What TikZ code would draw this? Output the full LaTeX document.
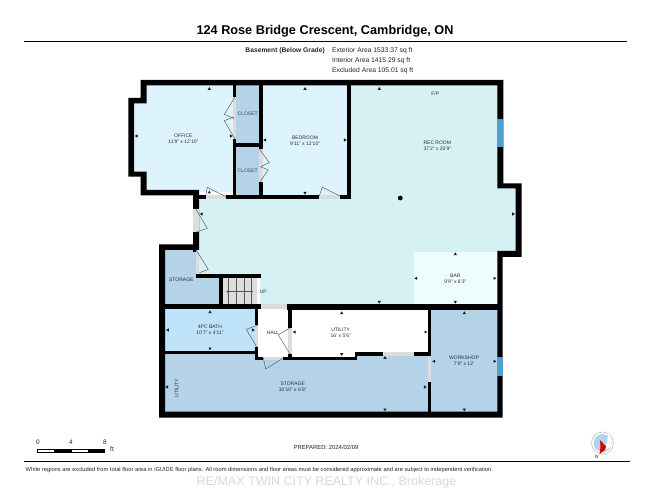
\documentclass[tikz,border=0pt]{standalone}
\usepackage{fontspec}
\usetikzlibrary{arrows.meta}
\setmainfont{Liberation Sans}
\definecolor{lightroom}{HTML}{DDF3FD}
\definecolor{closetc}{HTML}{B4D2E8}
\definecolor{recc}{HTML}{D6F1F3}
\definecolor{barc}{HTML}{EEFCFC}
\definecolor{bathc}{HTML}{BFE3FB}
\definecolor{winc}{HTML}{4F9FD0}
\definecolor{thc}{HTML}{DCDCDC}
\definecolor{leafc}{HTML}{555555}
\definecolor{labc}{HTML}{2E2E2E}
\definecolor{clabc}{HTML}{2F4563}
\tikzset{
  x=1pt,y=-1pt,
  wall/.style={fill=black},
  thresh/.style={fill=thc},
  leaf/.style={draw=leafc,line width=.45pt,line join=miter},
  lab/.style={font=\fontsize{5}{6}\selectfont,text=labc,align=center,inner sep=0pt},
  clab/.style={font=\fontsize{5}{6}\selectfont,text=clabc,align=center,inner sep=0pt},
  txt/.style={inner sep=0pt,text=black!85},
  rule/.style={draw=black,line width=.9pt},
}
\newcommand{\wl}[4]{\fill[wall] (#1,#2) rectangle (#3,#4);}
\newcommand{\thr}[4]{\fill[thresh] (#1,#2) rectangle (#3,#4);}
\newcommand{\tU}[2]{\fill[black!90] (#1,#2) ++(0,-2) -- ++(1.6,2.8) -- ++(-3.2,0) -- cycle;}
\newcommand{\tD}[2]{\fill[black!90] (#1,#2) ++(0,2) -- ++(1.6,-2.8) -- ++(-3.2,0) -- cycle;}
\newcommand{\tL}[2]{\fill[black!90] (#1,#2) ++(-2,0) -- ++(2.8,1.6) -- ++(0,-3.2) -- cycle;}
\newcommand{\tR}[2]{\fill[black!90] (#1,#2) ++(2,0) -- ++(-2.8,1.6) -- ++(0,-3.2) -- cycle;}
\begin{document}
\begin{tikzpicture}
\useasboundingbox (0,0) rectangle (650,502);
\fill[white] (0,0) rectangle (650,502);
% header
\node[txt,font=\bfseries\fontsize{12.7}{15}\selectfont,text=black] (title) at (325,31.5) {124 Rose Bridge Crescent, Cambridge, ON};
\coordinate (hl) at (24,41.5); \coordinate (hr) at (627,41.5);
\draw[rule] (hl) -- (hr);
\node[txt,anchor=east,font=\bfseries\fontsize{6.7}{8}\selectfont] (lvl) at (325,50.5) {Basement (Below Grade)};
\node[txt,anchor=west,font=\fontsize{6.75}{8}\selectfont] (a1) at (332,50.5) {Exterior Area 1533.37 sq ft};
\node[txt,anchor=west,font=\fontsize{6.75}{8}\selectfont] (a2) at (332,60.5) {Interior Area 1415.29 sq ft};
\node[txt,anchor=west,font=\fontsize{6.75}{8}\selectfont] (a3) at (332,71) {Excluded Area 105.01 sq ft};
% room fills
\fill[lightroom] (146,85) -- (235,85) -- (235,192) -- (146,192) -- (146,175) -- (133,175) -- (133,102) -- (146,102) -- cycle;
\fill[lightroom] (261,85) rectangle (349,197);
\fill[closetc] (235,85) rectangle (261,144);
\fill[closetc] (235,144) rectangle (261,197);
\fill[recc] (349,85) -- (498,85) -- (498,188) -- (516,188) -- (516,251.5) -- (498,251.5) -- (498,305) -- (260,305) -- (260,278) -- (197,278) -- (197,197) -- (349,197) -- cycle;
\fill[barc] (414,251.7) rectangle (498,305);
\fill[closetc] (164,249) -- (197,249) -- (197,276) -- (221,276) -- (221,305) -- (164,305) -- cycle;
\fill[bathc] (164,308) rectangle (256,352);
\fill[white] (257,308) rectangle (290,358);
\fill[white] (290,308) rectangle (429,356);
\fill[closetc] (164,353) -- (258,353) -- (258,359) -- (356,359) -- (356,354) -- (429,354) -- (429,412) -- (164,412) -- cycle;
\fill[closetc] (430,309) rectangle (498,412);
% stairs
\fill[thc] (222.7,278) rectangle (257.3,304.5);
\foreach \sx in {228.3,236,243.7,251.3}{\draw[leafc,line width=.4pt] (\sx,278) -- (\sx,304.5);}
\coordinate (ua) at (253,291.7); \coordinate (ub) at (226,291.7);
\draw[leafc,line width=.45pt,-{Stealth[length=3pt,width=3pt,open]}] (ua) -- (ub);
% outer walls
\fill[wall] (140.7,80) -- (503.3,80) -- (503.3,183.3) -- (521.7,183.3) -- (521.7,257) -- (502.7,257) -- (502.7,417.7) -- (159,417.7) -- (159,244.3) -- (193.3,244.3) -- (193.3,200) -- (199,200) -- (199,250) -- (165,250) -- (165,411.7) -- (497.3,411.7) -- (497.3,251) -- (515.7,251) -- (515.7,188.3) -- (497.3,188.3) -- (497.3,85.3) -- (146.7,85.3) -- (146.7,103.3) -- (134,103.3) -- (134,171.7) -- (146.7,171.7) -- (146.7,190) -- (199,190) -- (199,195.3) -- (193.3,195.3) -- (140.7,195.3) -- (140.7,176.7) -- (128.3,176.7) -- (128.3,98) -- (140.7,98) -- cycle;
\wl{193.3}{190}{199}{252}
% interior walls
\wl{199}{195.3}{350.7}{199.3}
\wl{233.3}{85}{236.3}{197}
\wl{259.3}{85}{262.7}{197}
\wl{236}{142.7}{260}{146.7}
\wl{347.3}{85}{350.7}{199}
\wl{196}{274.3}{260.7}{278.3}
\wl{219.3}{276}{222.7}{306}
\wl{165}{304.3}{260.7}{309}
\wl{286.7}{304.3}{500}{310}
\wl{255.3}{308}{258.3}{360}
\wl{165}{351}{258}{354.3}
\wl{255.3}{356.7}{263.3}{360}
\wl{283.3}{357.3}{357.3}{360}
\wl{355}{352.3}{357.3}{360}
\wl{355}{352.3}{431}{355.7}
\wl{288.3}{308}{291.7}{360}
\wl{428}{309}{431.3}{356}
\wl{428}{382.3}{431.3}{413}
% windows
\fill[winc] (497.3,118.7) rectangle (503.3,147.3);
\fill[winc] (497.3,356.7) rectangle (502.7,376);
% thresholds
\thr{233.3}{97}{236.3}{139}
\thr{259.3}{149}{262.7}{181.7}
\thr{205.7}{195.3}{226}{199.3}
\thr{319.3}{195.3}{340}{199.3}
\thr{193.3}{209.3}{199}{232.3}
\thr{196}{250}{199}{273.3}
\thr{255.3}{325}{258.3}{347.3}
\thr{263.3}{357}{283.3}{360}
\thr{288.3}{328}{291.7}{354.3}
\thr{260.7}{304.3}{286.7}{309}
\thr{383.3}{352.3}{414}{355.7}
\thr{428}{355.7}{431.3}{382.3}
% door leaves
\draw[leaf] (235,97) -- (224.3,114.3) -- (234,118.5);
\draw[leaf] (235,139) -- (224.3,120.7) -- (234,117);
\draw[leaf] (259.5,149) -- (269.3,162.7) -- (260.5,166.7);
\draw[leaf] (260,181.7) -- (268.3,170) -- (260.5,166.7);
\draw[leaf] (205.7,196) -- (207.3,187.3) -- (226,196.7);
\draw[leaf] (319.3,196) -- (322.3,187.3) -- (340,196);
\draw[leaf] (196,209.3) -- (207.3,228.3) -- (196,232.3);
\draw[leaf] (196,250) -- (208.3,269.3) -- (199,273);
\draw[leaf] (258,325) -- (246.3,329.3) -- (256.7,347);
\draw[leaf] (263.3,358) -- (265.7,369) -- (283.3,358);
\draw[leaf] (290,328) -- (278.3,335) -- (290,354);
% pillar
\fill[black] (400.3,198) circle (2.4);
% ticks
\tU{209.3}{89}\tL{136.7}{136}\tR{230.7}{136}\tU{209.3}{192.7}
\tU{305}{89}\tL{265.3}{140}\tR{344.7}{140}\tD{305}{192.7}
\tU{379.3}{89}\tL{201.7}{214}\tR{513}{214}\tD{379.3}{301.7}
\tU{455.3}{254.3}\tL{416.3}{278.3}\tR{494.3}{278.3}\tD{455.3}{301.7}
\tU{464.3}{313.3}\tL{434.3}{361.3}\tR{494.3}{361.3}\tD{464.3}{409.3}
\tU{341.7}{313.3}\tL{294.7}{332}\tR{425.3}{332}\tD{341.7}{354}
\tU{385}{358}\tD{385}{409.3}\tL{167.3}{387}\tR{424.7}{387}
\tU{210}{312.3}\tD{210}{348.3}\tL{168}{330}\tR{252.7}{330}
% labels
\node[lab] (office) at (183.3,139) {OFFICE\\11'9" x 12'10"};
\node[clab] (closet1) at (247.7,114) {CLOSET};
\node[clab] (closet2) at (247.7,170.7) {CLOSET};
\node[lab] (bedroom) at (305,140.5) {BEDROOM\\9'11" x 12'10"};
\node[lab] (rec) at (437.3,146.2) {REC ROOM\\37'2" x 25'9"};
\node[lab] (fp) at (435.3,94) {F/P};
\node[lab] (bar) at (455.3,278.4) {BAR\\9'9" x 6'3"};
\node[lab] (workshop) at (464,361) {WORKSHOP\\7'9" x 12'};
\node[lab] (utility) at (340.7,333.3) {UTILITY\\16' x 5'6"};
\node[lab] (storage) at (292.7,387) {STORAGE\\30'10" x 6'8"};
\node[lab,rotate=90] (utilv) at (176.7,388) {UTILITY};
\node[lab] (bath) at (210,330) {4PC BATH\\10'7" x 4'11"};
\node[lab] (hall) at (273,332.7) {HALL};
\node[lab] (storage2) at (181.3,280) {STORAGE};
\node[lab] (up) at (263.3,291.7) {UP};
% scale bar
\draw[black,line width=.35pt,fill=white] (36.7,449) rectangle (53.8,452.5);
\fill[black] (53.8,449) rectangle (71,452.5);
\draw[black,line width=.35pt,fill=white] (71,449) rectangle (88.2,452.5);
\fill[black] (88.2,449) rectangle (105.4,452.5);
\node[txt,font=\fontsize{6.5}{8}\selectfont] (s0) at (38,442) {0};
\node[txt,font=\fontsize{6.5}{8}\selectfont] (s4) at (71,442) {4};
\node[txt,font=\fontsize{6.5}{8}\selectfont] (s8) at (105,442) {8};
\node[txt,font=\fontsize{6.5}{8}\selectfont] (sft) at (112,449.5) {ft};
\node[txt,font=\fontsize{5.9}{7}\selectfont] (prep) at (326,447.7) {PREPARED: 2024/02/09};
% compass
\fill[white] (602.5,443) circle (11);
\draw[black!25,line width=.6pt] (602.5,443) circle (11);
\fill[white!55!winc] (602.5,443) circle (9);
\fill[white] (609,432) -- (605,450) -- (612,446) -- cycle;
\fill[red!85!black] (600.5,447) -- (599.5,454) -- (605,450) -- (606,446.5) -- (600,440) -- cycle;
\node[txt,font=\itshape\fontsize{5}{6}\selectfont] (north) at (596.7,456.5) {N};
% footer
\coordinate (fl) at (24,461.3); \coordinate (fr) at (630,461.3);
\draw[rule] (fl) -- (fr);
\node[txt,anchor=west,font=\fontsize{5.74}{7}\selectfont] (foot) at (25.5,469.6) {White regions are excluded from total floor area in iGUIDE floor plans. All room dimensions and floor areas must be considered approximate and are subject to independent verification.};
\node[txt,font=\fontsize{12.5}{14}\selectfont,text=black!15] (wm) at (326.5,482) {RE/MAX TWIN CITY REALTY INC., Brokerage};
\end{tikzpicture}
\end{document}
